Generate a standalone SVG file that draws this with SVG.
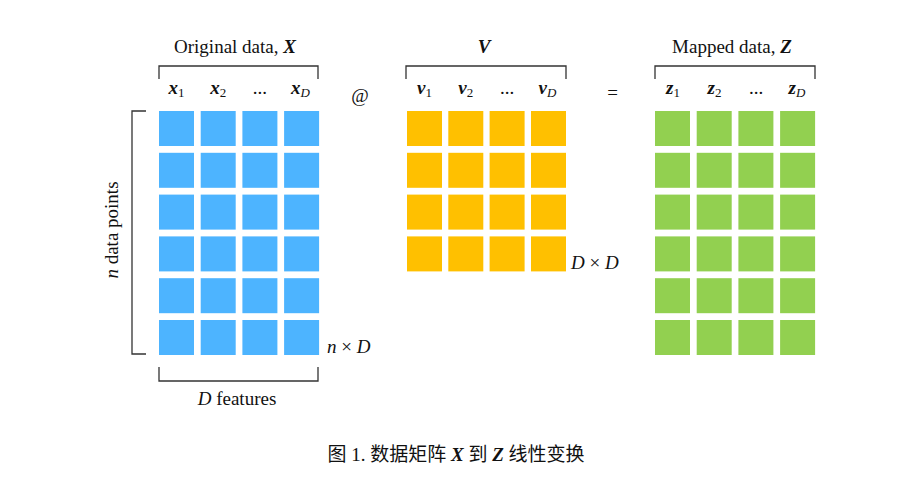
<svg xmlns="http://www.w3.org/2000/svg" width="905" height="477" viewBox="0 0 905 477">
<style>
text{font-family:"Liberation Serif","Noto Sans CJK SC",serif;fill:#111;font-size:19px}
.b{fill:#4DB4FF}.o{fill:#FFC000}.g{fill:#92D050}
.br{fill:none;stroke:#333;stroke-width:1.3}
.v{font-weight:bold;font-style:italic}
.s{font-size:13px;font-weight:normal;font-style:normal}
.si{font-size:13px;font-weight:normal;font-style:italic}
.it{font-style:italic}
.m{text-anchor:middle}
</style>
<defs>
<rect id="cb" width="35" height="35" class="b"/>
<rect id="co" width="35" height="35" class="o"/>
<rect id="cg" width="35" height="35" class="g"/>
</defs>
<g id="matrixX">
<g transform="translate(159,111)">
<use href="#cb" x="0" y="0"/><use href="#cb" x="41.7" y="0"/><use href="#cb" x="83.4" y="0"/><use href="#cb" x="125.1" y="0"/>
<use href="#cb" x="0" y="41.8"/><use href="#cb" x="41.7" y="41.8"/><use href="#cb" x="83.4" y="41.8"/><use href="#cb" x="125.1" y="41.8"/>
<use href="#cb" x="0" y="83.6"/><use href="#cb" x="41.7" y="83.6"/><use href="#cb" x="83.4" y="83.6"/><use href="#cb" x="125.1" y="83.6"/>
<use href="#cb" x="0" y="125.4"/><use href="#cb" x="41.7" y="125.4"/><use href="#cb" x="83.4" y="125.4"/><use href="#cb" x="125.1" y="125.4"/>
<use href="#cb" x="0" y="167.2"/><use href="#cb" x="41.7" y="167.2"/><use href="#cb" x="83.4" y="167.2"/><use href="#cb" x="125.1" y="167.2"/>
<use href="#cb" x="0" y="209"/><use href="#cb" x="41.7" y="209"/><use href="#cb" x="83.4" y="209"/><use href="#cb" x="125.1" y="209"/>
</g>
<text x="235" y="53" class="m">Original data, <tspan class="v">X</tspan></text>
<text x="176.5" y="94" class="m v">x<tspan class="s" dy="3">1</tspan></text>
<text x="218.2" y="94" class="m v">x<tspan class="s" dy="3">2</tspan></text>
<text x="259.9" y="94" class="m">...</text>
<text x="300.5" y="94" class="m v">x<tspan class="si" dy="3">D</tspan></text>
<path class="br" d="M159,79V66H318V79"/>
<path class="br" d="M146,111H132V354H146"/>
<path class="br" d="M159,367V381H318V367"/>
<text x="118" y="230" class="m" transform="rotate(-90 118 230)"><tspan class="it">n</tspan> data points</text>
<text x="237" y="405" class="m"><tspan class="it">D</tspan> features</text>
<text x="327" y="353"><tspan class="it">n</tspan> × <tspan class="it">D</tspan></text>
</g>
<g id="matrixV">
<g transform="translate(407,111)">
<use href="#co" x="0" y="0"/><use href="#co" x="41.3" y="0"/><use href="#co" x="82.6" y="0"/><use href="#co" x="124" y="0"/>
<use href="#co" x="0" y="41.8"/><use href="#co" x="41.3" y="41.8"/><use href="#co" x="82.6" y="41.8"/><use href="#co" x="124" y="41.8"/>
<use href="#co" x="0" y="83.6"/><use href="#co" x="41.3" y="83.6"/><use href="#co" x="82.6" y="83.6"/><use href="#co" x="124" y="83.6"/>
<use href="#co" x="0" y="125.4"/><use href="#co" x="41.3" y="125.4"/><use href="#co" x="82.6" y="125.4"/><use href="#co" x="124" y="125.4"/>
</g>
<text x="484" y="53" class="m v">V</text>
<text x="424.5" y="94" class="m v">v<tspan class="s" dy="3">1</tspan></text>
<text x="465.8" y="94" class="m v">v<tspan class="s" dy="3">2</tspan></text>
<text x="507.1" y="94" class="m">...</text>
<text x="547.5" y="94" class="m v">v<tspan class="si" dy="3">D</tspan></text>
<path class="br" d="M406,79V66H566V79"/>
<text x="571" y="269"><tspan class="it">D</tspan> × <tspan class="it">D</tspan></text>
</g>
<g id="matrixZ">
<g transform="translate(655,111)">
<use href="#cg" x="0" y="0"/><use href="#cg" x="41.7" y="0"/><use href="#cg" x="83.4" y="0"/><use href="#cg" x="125.1" y="0"/>
<use href="#cg" x="0" y="41.8"/><use href="#cg" x="41.7" y="41.8"/><use href="#cg" x="83.4" y="41.8"/><use href="#cg" x="125.1" y="41.8"/>
<use href="#cg" x="0" y="83.6"/><use href="#cg" x="41.7" y="83.6"/><use href="#cg" x="83.4" y="83.6"/><use href="#cg" x="125.1" y="83.6"/>
<use href="#cg" x="0" y="125.4"/><use href="#cg" x="41.7" y="125.4"/><use href="#cg" x="83.4" y="125.4"/><use href="#cg" x="125.1" y="125.4"/>
<use href="#cg" x="0" y="167.2"/><use href="#cg" x="41.7" y="167.2"/><use href="#cg" x="83.4" y="167.2"/><use href="#cg" x="125.1" y="167.2"/>
<use href="#cg" x="0" y="209"/><use href="#cg" x="41.7" y="209"/><use href="#cg" x="83.4" y="209"/><use href="#cg" x="125.1" y="209"/>
</g>
<text x="732" y="53" class="m">Mapped data, <tspan class="v">Z</tspan></text>
<text x="673" y="94" class="m v">z<tspan class="s" dy="3">1</tspan></text>
<text x="714.5" y="94" class="m v">z<tspan class="s" dy="3">2</tspan></text>
<text x="756.2" y="94" class="m">...</text>
<text x="797" y="94" class="m v">z<tspan class="si" dy="3">D</tspan></text>
<path class="br" d="M655,79V66H815V79"/>
</g>
<g id="operators">
<text x="360" y="102" class="m">@</text>
<text x="612.5" y="99" class="m">=</text>
</g>
<g id="connectors"></g>
<g id="caption">
<text x="456" y="461" class="m">图 1. 数据矩阵 <tspan class="v">X</tspan> 到 <tspan class="v">Z</tspan> 线性变换</text>
</g>
</svg>
